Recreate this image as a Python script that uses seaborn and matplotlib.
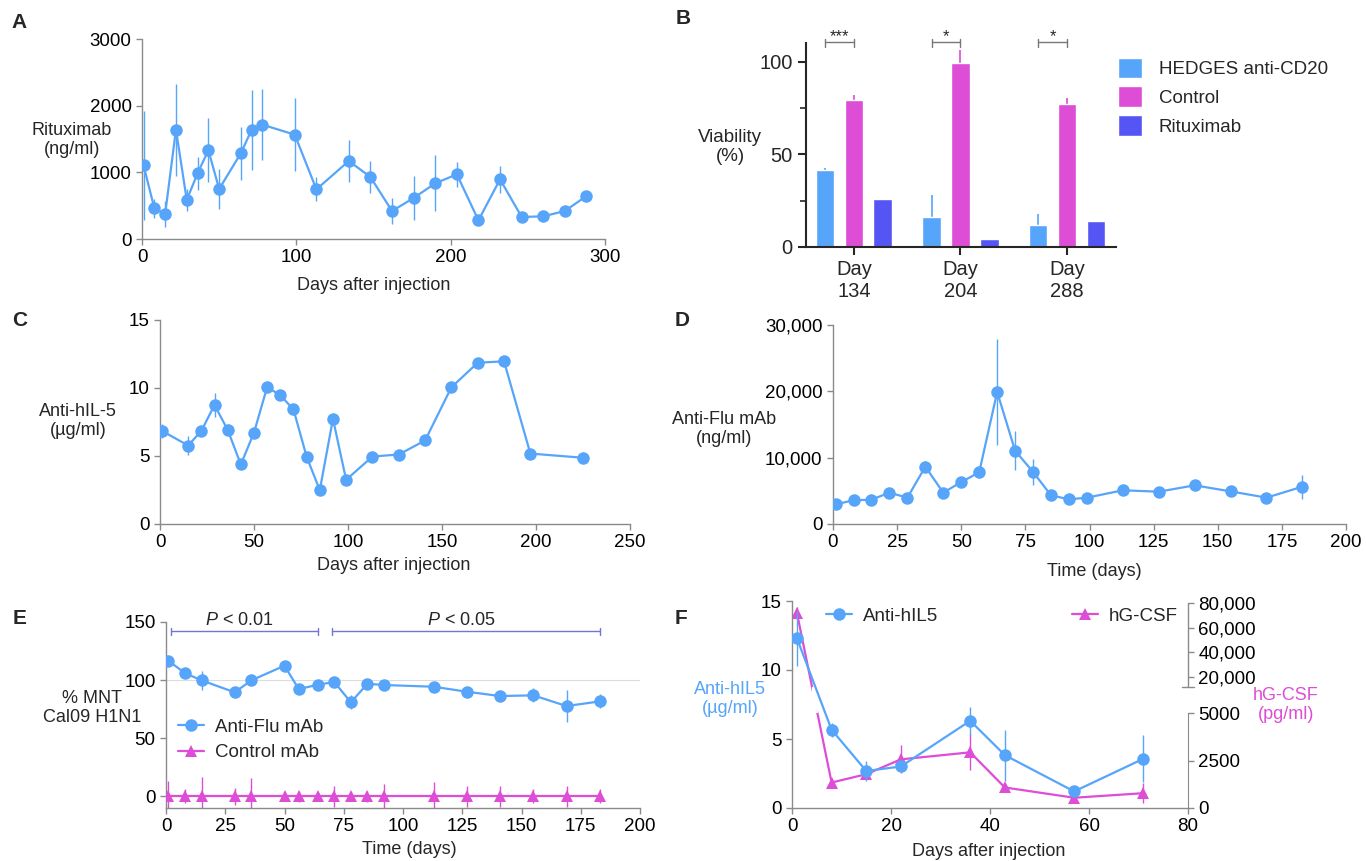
import numpy as np
import pandas as pd
import matplotlib
matplotlib.use('Agg')
import matplotlib.pyplot as plt
import matplotlib.transforms as mtransforms
from matplotlib.ticker import FuncFormatter, NullLocator
import seaborn as sns

# ---- data ----
# A: Rituximab
a_days = [1, 8, 15, 22, 29, 36, 43, 50, 64, 71, 78, 99, 113, 134, 148, 162, 176, 190, 204, 218, 232, 246, 260, 274, 288]
a_conc = [1105, 460, 375, 1640, 585, 985, 1330, 750, 1285, 1635, 1715, 1565, 745, 1170, 930, 420, 615, 835, 970, 280, 895, 330, 340, 420, 645]
a_err = [820, 140, 190, 690, 170, 250, 480, 305, 400, 600, 530, 545, 180, 310, 240, 190, 325, 420, 190, 40, 205, 50, 30, 40, 60]

# B: viability
b_days = ['Day\n134', 'Day\n204', 'Day\n288']
b_groups = ['HEDGES anti-CD20', 'Control', 'Rituximab']
b_hedges = [41.7, 16.0, 11.8]
b_hedges_err = [1.1, 11.8, 6.0]
b_control = [79.5, 99.1, 77.0]
b_control_err = [2.2, 7.2, 3.3]
b_ritux = [25.9, 4.3, 13.8]
b_ritux_err = [0.0, 0.0, 0.0]
b_stars = ['***', '*', '*']

# C: anti-hIL-5
c_days = [1, 15, 22, 29, 36, 43, 50, 57, 64, 71, 78, 85, 92, 99, 113, 127, 141, 155, 169, 183, 197, 225]
c_conc = [6.85, 5.77, 6.85, 8.75, 6.92, 4.38, 6.72, 10.07, 9.46, 8.43, 4.94, 2.49, 7.73, 3.25, 4.96, 5.11, 6.14, 10.05, 11.86, 11.96, 5.18, 4.87]
c_err = [0.5, 0.7, 0.3, 0.9, 0.4, 0.3, 0.3, 0.4, 0.3, 0.4, 0.3, 0.3, 0.3, 0.3, 0.3, 0.3, 0.3, 0.3, 0.3, 0.3, 0.3, 0.4]

# D: anti-Flu mAb
d_days = [1, 8, 15, 22, 29, 36, 43, 50, 57, 64, 71, 78, 85, 92, 99, 113, 127, 141, 155, 169, 183]
d_conc = [2970, 3570, 3670, 4720, 3970, 8640, 4720, 6330, 7790, 19900, 11050, 7840, 4320, 3720, 3970, 5080, 4870, 5830, 4920, 3970, 5630]
d_err = [500, 400, 800, 600, 600, 800, 400, 400, 900, 8000, 2900, 2000, 700, 400, 400, 400, 400, 700, 500, 700, 1800]

# E: % MNT Cal09 H1N1
e_days = [1, 8, 15, 29, 36, 50, 56, 64, 71, 78, 85, 92, 113, 127, 141, 155, 169, 183]
e_flu = [116.7, 106.0, 99.8, 89.5, 99.8, 112.4, 92.3, 96.0, 98.4, 80.9, 96.9, 95.8, 94.3, 90.0, 86.3, 86.9, 77.7, 81.7]
e_flu_err = [3, 4, 8, 5, 3, 3, 3, 3, 3, 6, 4, 3, 3, 3, 4, 6, 14, 6]
e_ctrl = [0, 0, 0, 0, 0, 0, 0, 0, 0, 0, 0, 0, 0, 0, 0, 0, 0, 0]
e_ctrl_err = [13, 6, 17, 7, 16, 3, 5, 4, 9, 4, 5, 11, 12, 9, 9, 6, 9, 6]
e_pranges = [(2.3, 64), (70, 183)]
e_plabels = ['< 0.01', '< 0.05']

# F: anti-hIL5 and hG-CSF
f_days = [1, 8, 15, 22, 36, 43, 57, 71]
f_il5 = [12.3, 5.67, 2.68, 3.01, 6.32, 3.83, 1.2, 3.57]
f_il5_err = [2.0, 0.5, 0.7, 0.3, 1.0, 1.85, 0.3, 1.7]
f_gcsf = [71900, 1340, 1780, 2560, 2930, 1080, 540, 780]
f_gcsf_err = [5000, 200, 220, 740, 940, 200, 100, 520]

BLUE = '#56A5FA'
MAGENTA = '#DD4DD6'
PURPLE = '#5555F5'
GRAY = '#8a8a8a'
PBLUE = '#7474D6'

sns.set_style('ticks')
plt.rcParams['font.family'] = ['Liberation Sans', 'DejaVu Sans']
plt.rcParams['mathtext.fontset'] = 'custom'
plt.rcParams['mathtext.rm'] = 'Liberation Sans'
plt.rcParams['mathtext.it'] = 'Liberation Sans:italic'

W, H = 1366, 861
fig = plt.figure(figsize=(W / 100, H / 100), dpi=100)


def fx(x):
    return x / W


def fy(y):
    return 1 - y / H


def add_ax(x0, y0, x1, y1):
    return fig.add_axes([x0 / W, 1 - y1 / H, (x1 - x0) / W, (y1 - y0) / H])


def style_gray(ax):
    sns.despine(ax=ax)
    for s in ['left', 'bottom']:
        ax.spines[s].set_color(GRAY)
        ax.spines[s].set_linewidth(1.0)
    ax.tick_params(colors=GRAY, labelcolor='black', labelsize=13.5, length=4, width=1)


def line_with_err(ax, x, y, err, color, marker, label=None):
    sns.lineplot(x=x, y=y, ax=ax, color=color, marker=marker, markersize=9,
                 markeredgewidth=0, linewidth=1.6, label=label, legend=False, zorder=3)
    ax.errorbar(x, y, yerr=err, fmt='none', ecolor=color, elinewidth=1, capsize=0, zorder=2)


comma = FuncFormatter(lambda v, p: f'{v:,.0f}')

# ---------------- A ----------------
ax = add_ax(142, 39, 605, 239)
line_with_err(ax, a_days, a_conc, a_err, BLUE, 'o')
ax.set_xlim(0, 300)
ax.set_ylim(0, 3000)
ax.set_xticks([0, 100, 200, 300])
ax.set_yticks([0, 1000, 2000, 3000])
style_gray(ax)
fig.text(fx(72), fy(140), 'Rituximab\n(ng/ml)', ha='center', va='center', fontsize=13)
fig.text(fx(374), fy(285), 'Days after injection', ha='center', va='center', fontsize=13)
fig.text(fx(19), fy(22), 'A', ha='center', va='center', fontsize=15, fontweight='bold')

# ---------------- B ----------------
ax = add_ax(806, 43, 1116, 247)
df_b = pd.DataFrame({
    'Day': b_days * 3,
    'Group': [g for g in b_groups for _ in b_days],
    'Viability': b_hedges + b_control + b_ritux,
})
sns.barplot(data=df_b, x='Day', y='Viability', hue='Group', hue_order=b_groups,
            palette=[BLUE, MAGENTA, PURPLE], saturation=1, width=0.815, gap=0.35,
            errorbar=None, ax=ax, zorder=2)
errs = [b_hedges_err, b_control_err, b_ritux_err]
cols = [BLUE, MAGENTA, PURPLE]
centers = []
for cont, err, col in zip(ax.containers, errs, cols):
    xs = [p.get_x() + p.get_width() / 2 for p in cont.patches]
    hs = [p.get_height() for p in cont.patches]
    centers.append(xs)
    ax.errorbar(xs, hs, yerr=[np.zeros(len(err)), err], fmt='none', ecolor=col,
                elinewidth=1.2, capsize=0, zorder=1)
for i, star in enumerate(b_stars):
    x1, x2 = centers[0][i], centers[1][i]
    ax.plot([x1, x2], [110.3, 110.3], color='#777777', lw=1, clip_on=False)
    for xe in (x1, x2):
        ax.plot([xe, xe], [107.6, 112.2], color='#777777', lw=1, clip_on=False)
    ax.text((x1 + x2) / 2, 109.6, star, ha='center', va='bottom', fontsize=12)
ax.set_xlim(-0.45, 2.46)
ax.set_ylim(0, 110)
ax.set_yticks([0, 50, 100])
ax.set_yticks([25, 75], minor=True)
ax.set_xlabel('')
ax.set_ylabel('')
sns.despine(ax=ax)
for s in ['left', 'bottom']:
    ax.spines[s].set_linewidth(1.5)
ax.tick_params(axis='both', which='major', labelsize=14.5, length=6, width=1.5)
ax.tick_params(axis='y', which='minor', length=4, width=1.2)
ax.legend(loc='upper left', bbox_to_anchor=(fx(1110), fy(50)), bbox_transform=fig.transFigure,
          frameon=False, fontsize=13.5, handlelength=1.3, handleheight=1.3, labelspacing=0.45,
          handletextpad=0.9, borderaxespad=0)
fig.text(fx(730), fy(147), 'Viability\n(%)', ha='center', va='center', fontsize=13.5)
fig.text(fx(683), fy(18), 'B', ha='center', va='center', fontsize=15, fontweight='bold')

# ---------------- C ----------------
ax = add_ax(160, 320, 630, 524)
line_with_err(ax, c_days, c_conc, c_err, BLUE, 'o')
ax.set_xlim(0, 250)
ax.set_ylim(0, 15)
ax.set_xticks([0, 50, 100, 150, 200, 250])
ax.set_yticks([0, 5, 10, 15])
style_gray(ax)
fig.text(fx(78), fy(421), 'Anti-hIL-5\n(µg/ml)', ha='center', va='center', fontsize=13)
fig.text(fx(394), fy(566), 'Days after injection', ha='center', va='center', fontsize=13)
fig.text(fx(20), fy(320), 'C', ha='center', va='center', fontsize=15, fontweight='bold')

# ---------------- D ----------------
ax = add_ax(833, 325, 1346, 524)
line_with_err(ax, d_days, d_conc, d_err, BLUE, 'o')
ax.set_xlim(0, 200)
ax.set_ylim(0, 30000)
ax.set_xticks([0, 25, 50, 75, 100, 125, 150, 175, 200])
ax.set_yticks([0, 10000, 20000, 30000])
ax.yaxis.set_major_formatter(comma)
style_gray(ax)
fig.text(fx(724), fy(429), 'Anti-Flu mAb\n(ng/ml)', ha='center', va='center', fontsize=13)
fig.text(fx(1094), fy(572), 'Time (days)', ha='center', va='center', fontsize=13)
fig.text(fx(682), fy(320), 'D', ha='center', va='center', fontsize=15, fontweight='bold')

# ---------------- E ----------------
ax = add_ax(166, 622, 640, 808)
ax.axhline(100, color='#dddddd', lw=0.8, zorder=0)
line_with_err(ax, e_days, e_flu, e_flu_err, BLUE, 'o', label='Anti-Flu mAb')
line_with_err(ax, e_days, e_ctrl, e_ctrl_err, MAGENTA, '^', label='Control mAb')
for (xa, xb), lab in zip(e_pranges, e_plabels):
    ax.plot([xa, xb], [142, 142], color=PBLUE, lw=1, clip_on=False)
    for xe in (xa, xb):
        ax.plot([xe, xe], [139, 144.5], color=PBLUE, lw=1, clip_on=False)
    ax.text((xa + xb) / 2 - 2, 144, r'$\it{P}$ ' + lab, ha='center', va='bottom',
            fontsize=13, clip_on=False)
ax.set_xlim(0, 200)
ax.set_ylim(-10, 150)
ax.set_xticks([0, 25, 50, 75, 100, 125, 150, 175, 200])
ax.set_yticks([0, 50, 100, 150])
style_gray(ax)
ax.legend(loc='center left', bbox_to_anchor=(fx(170), fy(740)), bbox_transform=fig.transFigure,
          frameon=False, fontsize=13.5, handlelength=1.4, labelspacing=0.45, borderaxespad=0,
          handletextpad=0.6)
fig.text(fx(92), fy(708), '% MNT\nCal09 H1N1', ha='center', va='center', fontsize=13)
fig.text(fx(409), fy(850), 'Time (days)', ha='center', va='center', fontsize=13)
fig.text(fx(20), fy(618), 'E', ha='center', va='center', fontsize=15, fontweight='bold')

# ---------------- F ----------------
ax = add_ax(792, 601, 1188, 808)
ax2 = ax.twinx()
brk_v = [-50000, 0, 5000, 11900, 81600, 400000]
brk_p = [-950, 0, 95, 121, 207, 207 + (400000 - 81600) * 84 / 68100]
ax2.set_yscale('function', functions=(lambda v: np.interp(v, brk_v, brk_p),
                                      lambda p: np.interp(p, brk_p, brk_v)))
line_with_err(ax2, f_days, f_gcsf, f_gcsf_err, MAGENTA, '^', label='hG-CSF')
ax2.fill_between([4.0, 5.2], 5000, 11900, color='white', lw=0, zorder=4)
line_with_err(ax, f_days, f_il5, f_il5_err, BLUE, 'o', label='Anti-hIL5')
ax.set_zorder(ax2.get_zorder() + 1)
ax.patch.set_visible(False)
ax.set_xlim(0, 80)
ax.set_ylim(0, 15)
ax.set_xticks([0, 20, 40, 60, 80])
ax.set_yticks([0, 5, 10, 15])
style_gray(ax)
ax2.set_ylim(0, 81600)
ax2.set_yticks([0, 2500, 5000, 20000, 40000, 60000, 80000])
ax2.yaxis.set_minor_locator(NullLocator())
ax2.yaxis.set_major_formatter(FuncFormatter(lambda v, p: f'{v:,.0f}' if v >= 10000 else f'{v:.0f}'))
for s in ['top', 'left', 'bottom']:
    ax2.spines[s].set_visible(False)
ax2.spines['right'].set_color(GRAY)
ax2.spines['right'].set_bounds(0, 5000)
ax2.tick_params(colors=GRAY, labelcolor='black', labelsize=13.5, length=4, width=1)
bt = mtransforms.blended_transform_factory(ax2.transAxes, ax2.transData)
ax2.plot([1, 1], [11900, 80000], color=GRAY, lw=1, transform=bt, clip_on=False)
ax2.plot([0.985, 1.015], [11900, 11900], color=GRAY, lw=1, transform=bt, clip_on=False)
ax.legend(loc='center left', bbox_to_anchor=(fx(818), fy(616)), bbox_transform=fig.transFigure,
          frameon=False, fontsize=13.5, handlelength=1.4, borderaxespad=0, handletextpad=0.6)
ax2.legend(loc='center left', bbox_to_anchor=(fx(1064), fy(616)), bbox_transform=fig.transFigure,
           frameon=False, fontsize=13.5, handlelength=1.4, borderaxespad=0, handletextpad=0.6)
fig.text(fx(730), fy(699), 'Anti-hIL5\n(µg/ml)', ha='center', va='center', fontsize=13, color=BLUE)
fig.text(fx(1286), fy(705), 'hG-CSF\n(pg/ml)', ha='center', va='center', fontsize=13, color=MAGENTA)
fig.text(fx(989), fy(852), 'Days after injection', ha='center', va='center', fontsize=13)
fig.text(fx(681), fy(618), 'F', ha='center', va='center', fontsize=15, fontweight='bold')

fig.savefig('out.png', dpi=100)
